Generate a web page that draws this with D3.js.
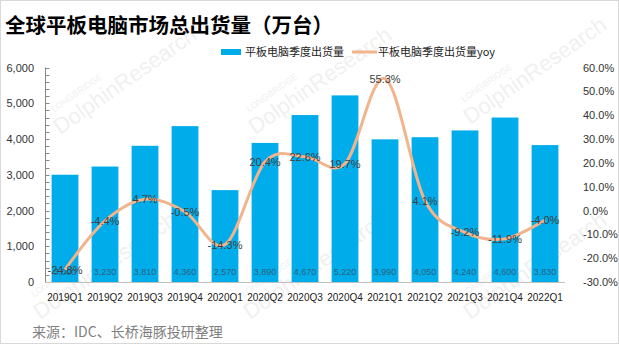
<!DOCTYPE html>
<html><head><meta charset="utf-8">
<script src="https://cdn.jsdelivr.net/npm/d3@7/dist/d3.min.js"></script>
<style>body{margin:0;background:#fff;}svg{display:block;font-family:"Microsoft YaHei","Noto Sans CJK SC",sans-serif;}</style>
</head><body><svg id="c" width="619" height="344"></svg>
<script>
const categories = ["2019Q1","2019Q2","2019Q3","2019Q4","2020Q1","2020Q2","2020Q3","2020Q4","2021Q1","2021Q2","2021Q3","2021Q4","2022Q1"];
const shipments = [3000,3230,3810,4360,2570,3890,4670,5220,3990,4050,4240,4600,3830];
const yoy = [-24.8,-4.4,4.7,-0.5,-14.3,20.4,22.6,19.7,55.3,4.1,-9.2,-11.9,-4.0];
const leftTicks = [0,1000,2000,3000,4000,5000,6000];
const rightTicks = [-30,-20,-10,0,10,20,30,40,50,60];
const title = "全球平板电脑市场总出货量（万台）";
const seriesNames = ["平板电脑季度出货量","平板电脑季度出货量yoy"];
const source = "来源：IDC、长桥海豚投研整理";

const svg = d3.select("#c");
const W=619,H=344;
svg.append("rect").attr("x",0.5).attr("y",0.5).attr("width",W-1).attr("height",H-1).attr("fill","#fff").attr("stroke","#d9d9d9");

// faint watermarks
const wm = svg.append("g").attr("fill","#f0f0f0").attr("font-family","Arial, sans-serif");
[[60,135],[255,135],[470,125],[40,320],[250,320],[470,320]].forEach(([x,y])=>{
  const g = wm.append("g").attr("transform",`translate(${x},${y}) rotate(-35)`);
  g.append("text").attr("font-size",9).attr("y",-22).attr("x",8).text("LONGBRIDGE");
  g.append("text").attr("font-size",22).text("DolphinResearch");
});

const x = d3.scaleBand().domain(categories).range([45,565]).paddingInner(0.33).paddingOuter(0.165);
const yL = d3.scaleLinear().domain([0,6000]).range([282,67.5]);
const yR = d3.scaleLinear().domain([-30,60]).range([282,67.5]);

// title
svg.append("text").attr("x",5).attr("y",33).attr("font-size",20.5).attr("font-weight","bold").attr("fill","#000").text(title);

// legend
svg.append("rect").attr("x",221).attr("y",49).attr("width",20).attr("height",6).attr("fill","#00adea");
svg.append("text").attr("x",245).attr("y",56).attr("font-size",11).attr("fill","#222").text(seriesNames[0]);
svg.append("line").attr("x1",352).attr("x2",377).attr("y1",52).attr("y2",52).attr("stroke","#f2b48c").attr("stroke-width",3);
svg.append("text").attr("x",378).attr("y",56).attr("font-size",11).attr("fill","#222").text(seriesNames[1]);

// bars
svg.append("g").selectAll("rect").data(shipments).join("rect")
  .attr("x",(d,i)=>x(categories[i])).attr("width",x.bandwidth())
  .attr("y",d=>yL(d)).attr("height",d=>yL(0)-yL(d)).attr("fill","#00adea");

// bar labels
svg.append("g").selectAll("text").data(shipments).join("text")
  .attr("x",(d,i)=>x(categories[i])+x.bandwidth()/2).attr("y",274.5)
  .attr("text-anchor","middle").attr("font-size",9).attr("font-family","Arial, sans-serif").attr("fill","#2f5f80")
  .text(d=>d3.format(",")(d));

// left axis
const la = svg.append("g");
la.append("line").attr("x1",45.5).attr("x2",45.5).attr("y1",yL(6000)).attr("y2",yL(0)).attr("stroke","#888");
la.selectAll("line.t").data(d3.range(0,6001,200)).join("line").attr("class","t")
  .attr("x1",45.5).attr("x2",49.5).attr("y1",d=>Math.round(yL(d))+0.5).attr("y2",d=>Math.round(yL(d))+0.5).attr("stroke","#888");
la.selectAll("text").data(leftTicks).join("text").attr("x",34).attr("y",d=>yL(d)+4)
  .attr("text-anchor","end").attr("font-size",11).attr("fill","#333").attr("font-family","Arial, sans-serif").text(d=>d3.format(",")(d));

// bottom axis line
svg.append("line").attr("x1",45).attr("x2",565).attr("y1",282.5).attr("y2",282.5).attr("stroke","#bfbfbf");

// right axis labels
svg.append("g").selectAll("text").data(rightTicks).join("text").attr("x",583).attr("y",d=>yR(d)+4)
  .attr("font-size",11).attr("fill","#333").attr("font-family","Arial, sans-serif").text(d=>d.toFixed(1)+"%");

// x labels
svg.append("g").selectAll("text").data(categories).join("text")
  .attr("x",d=>x(d)+x.bandwidth()/2).attr("y",301).attr("text-anchor","middle")
  .attr("font-size",10).attr("fill","#222").attr("font-family","Arial, sans-serif").text(d=>d);

// yoy line
const line = d3.line().x((d,i)=>x(categories[i])+x.bandwidth()/2).y(d=>yR(d)).curve(d3.curveCardinal.tension(0));
svg.append("path").datum(yoy).attr("d",line).attr("fill","none").attr("stroke","#f2b48c").attr("stroke-width",3);

svg.append("g").selectAll("text").data(yoy).join("text")
  .attr("x",(d,i)=>x(categories[i])+x.bandwidth()/2).attr("y",d=>yR(d)+4)
  .attr("text-anchor","middle").attr("font-size",11).attr("fill","#404040").attr("font-family","Arial, sans-serif")
  .text(d=>d.toFixed(1)+"%");

// source
svg.append("text").attr("x",32).attr("y",337).attr("font-size",14).attr("fill","#7f7f7f").text(source);
</script></body></html>
